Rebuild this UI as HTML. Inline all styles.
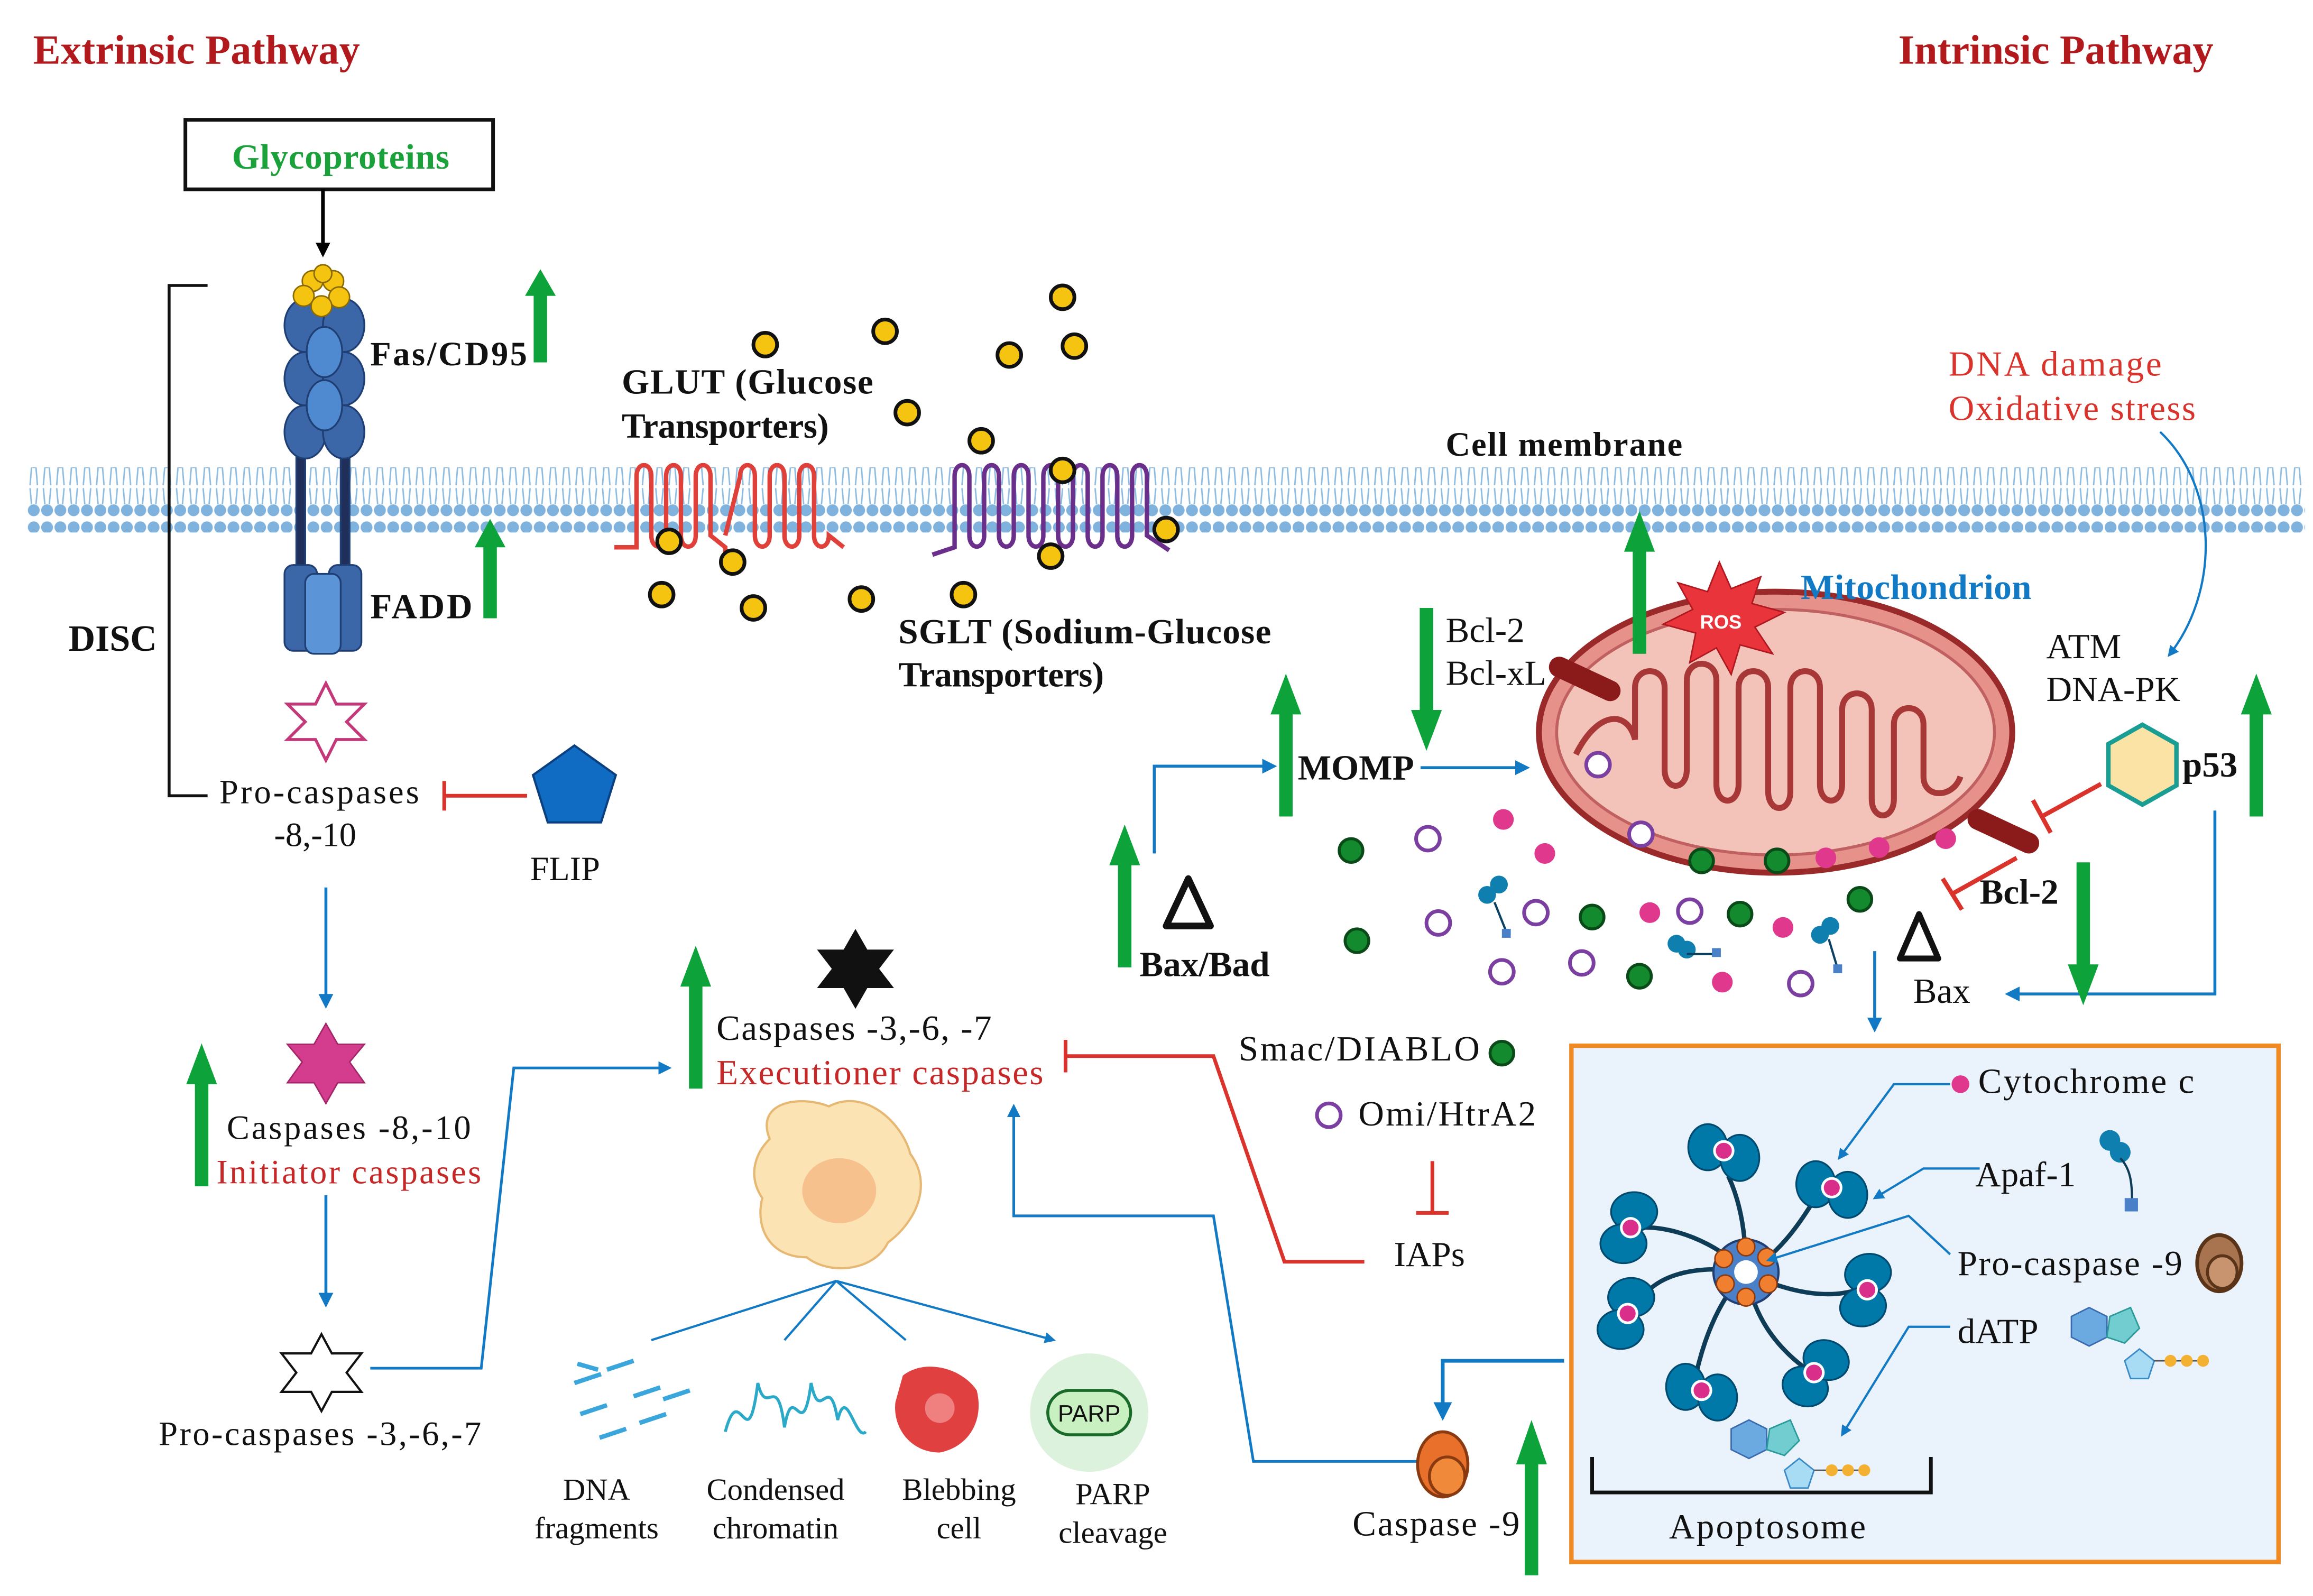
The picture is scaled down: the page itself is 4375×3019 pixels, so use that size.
<!DOCTYPE html>
<html><head><meta charset="utf-8"><style>
html,body{margin:0;padding:0;background:#fff;}
svg{display:block;}
text{font-family:"Liberation Serif",serif;}
</style></head><body>
<svg width="4375" height="3019" viewBox="0 0 1563 1079" xmlns="http://www.w3.org/2000/svg">
<defs>
<marker id="ab" viewBox="0 0 10 10" refX="8" refY="5" markerWidth="5" markerHeight="5" orient="auto"><path d="M0,0L10,5L0,10z" fill="#1279c4"/></marker>
<marker id="ak" viewBox="0 0 10 10" refX="8" refY="5" markerWidth="4" markerHeight="4" orient="auto"><path d="M0,0L10,5L0,10z" fill="#000"/></marker>
<pattern id="mem" x="0" y="0" width="9" height="44" patternUnits="userSpaceOnUse">
<circle cx="4.5" cy="4.5" r="4" fill="#7fb2dd"/>
<path d="M3,8 L2,20 M6,8 L7,20" stroke="#8cbce2" stroke-width="1"/>
<circle cx="4.5" cy="37" r="4" fill="#7fb2dd"/>
<path d="M3,33 L2,22 M6,33 L7,22" stroke="#8cbce2" stroke-width="1"/>
</pattern>
<g id="apaf">
<ellipse cx="-9" cy="-2" rx="11" ry="13" fill="#0078a8" stroke="#004a70" stroke-width="1"/>
<ellipse cx="9" cy="4" rx="11" ry="13" fill="#0078a8" stroke="#004a70" stroke-width="1"/>
<circle cx="0" cy="0" r="6" fill="#fff"/>
<circle cx="0" cy="0" r="4.5" fill="#d92f8b"/>
</g>
<g id="sarr"><path d="M-8,0 L0,-12 L8,0 L3.5,0 L3.5,30 L-3.5,30 L-3.5,0z" fill="#0da33a"/></g>
</defs>

<text x="22" y="43" font-size="28" fill="#b1191d" font-weight="bold" textLength="221">Extrinsic Pathway</text>
<text x="1283" y="43" font-size="28" fill="#b1191d" font-weight="bold" textLength="213">Intrinsic Pathway</text>

<rect x="18" y="316" width="1540" height="44" fill="url(#mem)"/>

<rect x="125" y="81" width="208" height="47" fill="#fff" stroke="#111" stroke-width="2.5"/>
<text x="230" y="114" font-size="24" fill="#1aa13a" text-anchor="middle" font-weight="bold" textLength="147">Glycoproteins</text>
<line x1="218" y1="128" x2="218" y2="172" stroke="#000" stroke-width="2.5" marker-end="url(#ak)"/>

<g stroke="#1f3f74" stroke-width="1.2">
<rect x="200" y="300" width="6" height="90" fill="#1f2f5a"/>
<rect x="230" y="300" width="6" height="90" fill="#1f2f5a"/>
<ellipse cx="206" cy="220" rx="14" ry="18" fill="#3b67a8"/><ellipse cx="232" cy="220" rx="14" ry="18" fill="#3b67a8"/>
<ellipse cx="206" cy="256" rx="14" ry="18" fill="#3b67a8"/><ellipse cx="232" cy="256" rx="14" ry="18" fill="#3b67a8"/>
<ellipse cx="206" cy="292" rx="14" ry="18" fill="#3b67a8"/><ellipse cx="232" cy="292" rx="14" ry="18" fill="#3b67a8"/>
<ellipse cx="219" cy="238" rx="12" ry="17" fill="#4f8ad0"/><ellipse cx="219" cy="274" rx="12" ry="17" fill="#4f8ad0"/>
<rect x="192" y="382" width="22" height="58" rx="6" fill="#3b67a8"/>
<rect x="222" y="382" width="22" height="58" rx="6" fill="#3b67a8"/>
<rect x="206" y="388" width="24" height="54" rx="6" fill="#5b95d8"/>
</g>
<g fill="#f4c411" stroke="#8a6a00" stroke-width="1">
<circle cx="211" cy="190" r="7"/><circle cx="225" cy="190" r="7"/><circle cx="205" cy="200" r="7"/><circle cx="229" cy="201" r="7"/><circle cx="217" cy="207" r="7"/><circle cx="218" cy="185" r="6"/>
</g>
<text x="250" y="247" font-size="23" fill="#111" font-weight="bold" textLength="106">Fas/CD95</text>
<use href="#sarr" transform="translate(365,200) scale(1.3,1.5)"/>
<text x="250" y="418" font-size="24" fill="#111" font-weight="bold" textLength="69">FADD</text>
<use href="#sarr" transform="translate(331,370) scale(1.3,1.6)"/>

<path d="M140,193 H114 V538 H140" fill="none" stroke="#111" stroke-width="2"/>
<text x="46" y="440" font-size="25" fill="#111" font-weight="bold">DISC</text>

<path d="M220,462 L227,476 L246,476 L234,488 L246,500 L227,500 L220,514 L213,500 L194,500 L206,488 L194,476 L213,476z" fill="#fff" stroke="#c4387a" stroke-width="2"/>
<text x="148" y="543" font-size="23" fill="#111" textLength="135">Pro-caspases</text>
<text x="185" y="572" font-size="23" fill="#111">-8,-10</text>
<line x1="300" y1="538" x2="356" y2="538" stroke="#d9332c" stroke-width="2.5"/>
<line x1="300" y1="528" x2="300" y2="548" stroke="#d9332c" stroke-width="2.5"/>
<path d="M388,504 L416,524 L406,556 L370,556 L360,524z" fill="#0f6cc2" stroke="#0a3f80" stroke-width="1.5"/>
<text x="358" y="595" font-size="23" fill="#111">FLIP</text>

<line x1="220" y1="600" x2="220" y2="680" stroke="#1279c4" stroke-width="2" marker-end="url(#ab)"/>
<path d="M220,692 L228,706 L246,706 L236,718 L246,732 L228,732 L220,746 L212,732 L194,732 L204,718 L194,706 L212,706z" fill="#d43d8d" stroke="#a32668"/>
<use href="#sarr" transform="translate(136,733) scale(1.3,2.3)"/>
<text x="153" y="770" font-size="23" fill="#111" textLength="165">Caspases -8,-10</text>
<text x="146" y="800" font-size="23" fill="#c62828" textLength="179">Initiator caspases</text>
<line x1="220" y1="808" x2="220" y2="882" stroke="#1279c4" stroke-width="2" marker-end="url(#ab)"/>
<path d="M217,902 L224,915 L244,915 L234,928 L244,941 L224,941 L217,954 L210,941 L190,941 L200,928 L190,915 L210,915z" fill="#fff" stroke="#111" stroke-width="1.5"/>
<text x="107" y="977" font-size="23" fill="#111" textLength="218">Pro-caspases -3,-6,-7</text>
<path d="M250,925 H325 L347,722 H452" fill="none" stroke="#1279c4" stroke-width="1.8" marker-end="url(#ab)"/>

<use href="#sarr" transform="translate(470,667) scale(1.3,2.3)"/>
<path d="M578,628 L586,642 L604,642 L594,655 L604,668 L586,668 L578,682 L570,668 L552,668 L562,655 L552,642 L570,642z" fill="#111"/>
<text x="484" y="703" font-size="24" fill="#111" textLength="186">Caspases -3,-6, -7</text>
<text x="484" y="733" font-size="24" fill="#c62828" textLength="221">Executioner caspases</text>
<path d="M720,714 H820 L868,853 H922" fill="none" stroke="#d9332c" stroke-width="2.5"/>
<line x1="720" y1="703" x2="720" y2="725" stroke="#d9332c" stroke-width="2.5"/>

<path d="M520,770 C510,745 540,740 560,748 C585,735 610,760 615,780 C630,800 620,825 600,840 C590,860 560,862 545,850 C520,850 510,830 515,810 C505,795 510,780 520,770z" fill="#fbe3b4" stroke="#e7b873" stroke-width="1.5"/>
<ellipse cx="567" cy="805" rx="25" ry="22" fill="#f7c18e"/>
<path d="M565,866 L440,906 M565,866 L530,906 M565,866 L612,906 M565,866 L712,906" stroke="#1279c4" stroke-width="1.5" marker-end="url(#ab)" fill="none"/>
<g stroke="#3aa6dc" stroke-width="3" fill="none">
<path d="M388,935 l18,-6 M410,926 l18,-6 M428,944 l18,-6 M392,956 l18,-6 M448,946 l18,-6 M405,972 l18,-6 M432,962 l18,-6 M390,922 l14,4"/>
</g>
<path d="M490,968 C500,930 505,990 512,935 C518,960 525,925 530,965 C536,930 542,980 548,935 C554,965 560,925 566,960 C572,935 578,975 585,968" fill="none" stroke="#2aa9c9" stroke-width="2"/>
<path d="M610,930 C625,918 650,925 660,940 C665,960 655,978 635,982 C615,982 603,965 605,948z" fill="#e04040"/>
<circle cx="635" cy="952" r="10" fill="#f08080"/>
<circle cx="736" cy="955" r="40" fill="#d5efd5" opacity="0.8"/>
<rect x="708" y="940" width="56" height="30" rx="15" fill="#c8f0c0" stroke="#1a6b2a" stroke-width="2"/>
<text x="736" y="961" font-size="16" text-anchor="middle" fill="#111" style="font-family:'Liberation Sans',sans-serif">PARP</text>
<g font-size="21" fill="#111" text-anchor="middle">
<text x="403" y="1014">DNA</text><text x="403" y="1040">fragments</text>
<text x="524" y="1014">Condensed</text><text x="524" y="1040">chromatin</text>
<text x="648" y="1014">Blebbing</text><text x="648" y="1040">cell</text>
<text x="752" y="1017">PARP</text><text x="752" y="1043">cleavage</text>
</g>
<path d="M958,988 H847 L820,822 H685 V748" fill="none" stroke="#1279c4" stroke-width="1.8" marker-end="url(#ab)"/>

<text x="420" y="266" font-size="24" fill="#111" font-weight="bold" textLength="170">GLUT (Glucose</text>
<text x="420" y="296" font-size="24" fill="#111" font-weight="bold" textLength="140">Transporters)</text>
<path d="M415,370 L430,370 V322 C430,312 440,312 440,322 V362 C440,372 450,372 450,362 V322 C450,312 460,312 460,322 V362 C460,372 470,372 470,362 V322 C470,312 480,312 480,322 V362 L490,370 L490,385 M490,362 L500,322 C500,312 510,312 510,322 V362 C510,372 520,372 520,362 V322 C520,312 530,312 530,322 V362 C530,372 540,372 540,362 V322 C540,312 550,312 550,322 V362 C550,372 560,372 560,362 L570,370" fill="none" stroke="#e0403a" stroke-width="3"/>
<path d="M630,375 L645,370 V322 C645,312 655,312 655,322 V362 C655,372 665,372 665,362 V322 C665,312 675,312 675,322 V362 C675,372 685,372 685,362 V322 C685,312 695,312 695,322 V362 C695,372 705,372 705,362 V322 C705,312 715,312 715,322 V362 C715,372 725,372 725,362 V322 C725,312 735,312 735,322 V362 C735,372 745,372 745,362 V322 C745,312 755,312 755,322 V362 C755,372 765,372 765,362 V322 C765,312 775,312 775,322 V362 L790,372" fill="none" stroke="#6a2f8a" stroke-width="3"/>
<text x="607" y="435" font-size="24" fill="#111" font-weight="bold" textLength="252">SGLT (Sodium-Glucose</text>
<text x="607" y="464" font-size="24" fill="#111" font-weight="bold" textLength="139">Transporters)</text>
<g fill="#f4c411" stroke="#111" stroke-width="2.5">
<circle cx="517" cy="233" r="8"/><circle cx="598" cy="224" r="8"/><circle cx="682" cy="240" r="8"/><circle cx="718" cy="201" r="8"/><circle cx="726" cy="234" r="8"/><circle cx="613" cy="279" r="8"/><circle cx="663" cy="298" r="8"/><circle cx="718" cy="318" r="8"/><circle cx="788" cy="358" r="8"/><circle cx="710" cy="376" r="8"/><circle cx="452" cy="366" r="8"/><circle cx="495" cy="380" r="8"/><circle cx="447" cy="402" r="8"/><circle cx="509" cy="411" r="8"/><circle cx="582" cy="405" r="8"/><circle cx="651" cy="402" r="8"/>
</g>
<text x="977" y="308" font-size="23" fill="#111" font-weight="bold" textLength="160">Cell membrane</text>

<text x="1317" y="254" font-size="24" fill="#d9332c" textLength="144">DNA damage</text>
<text x="1317" y="284" font-size="24" fill="#d9332c" textLength="167">Oxidative stress</text>
<path d="M1460,292 C1500,330 1500,400 1466,443" fill="none" stroke="#1279c4" stroke-width="1.5" marker-end="url(#ab)"/>
<text x="1383" y="445" font-size="24" fill="#111">ATM</text>
<text x="1383" y="474" font-size="24" fill="#111">DNA-PK</text>
<path d="M1448,490 L1471,503 V531 L1448,544 L1425,531 V503z" fill="#fbe3a6" stroke="#1a9e93" stroke-width="3"/>
<text x="1475" y="525" font-size="24" fill="#111" font-weight="bold">p53</text>
<use href="#sarr" transform="translate(1525,483) scale(1.3,2.3)"/>
<line x1="1420" y1="530" x2="1380" y2="552" stroke="#d9332c" stroke-width="3"/>
<line x1="1374" y1="541" x2="1386" y2="563" stroke="#d9332c" stroke-width="3"/>
<path d="M1497,548 V672 H1357" fill="none" stroke="#1279c4" stroke-width="2" marker-end="url(#ab)"/>
<path d="M1297,618 L1310,648 H1284z" fill="none" stroke="#111" stroke-width="4" stroke-linejoin="round"/>
<text x="1293" y="678" font-size="24" fill="#111">Bax</text>
<use href="#sarr" transform="translate(1408,652) scale(1.3,-2.3)"/>
<text x="1338" y="611" font-size="24" fill="#111" font-weight="bold">Bcl-2</text>
<line x1="1363" y1="580" x2="1320" y2="604" stroke="#d9332c" stroke-width="3"/>
<line x1="1313" y1="594" x2="1326" y2="615" stroke="#d9332c" stroke-width="3"/>

<ellipse cx="1200" cy="495" rx="160" ry="95" fill="#e6928a" stroke="#9a2a2a" stroke-width="4"/>
<ellipse cx="1200" cy="495" rx="148" ry="83" fill="#f3c3b9" stroke="#c06060" stroke-width="2"/>
<path d="M1065,510 C1080,480 1100,480 1105,500 V465 C1105,450 1125,450 1125,465 V520 C1125,535 1140,535 1140,520 V460 C1140,445 1160,445 1160,460 V530 C1160,545 1175,545 1175,530 V465 C1175,450 1195,450 1195,465 V535 C1195,550 1210,550 1210,535 V465 C1210,450 1230,450 1230,465 V530 C1230,545 1245,545 1245,530 V480 C1245,465 1265,465 1265,480 V540 C1265,555 1280,555 1280,540 V490 C1280,475 1300,475 1300,490 V525 C1300,540 1320,540 1325,525" fill="none" stroke="#a83838" stroke-width="4"/>
<rect x="1045" y="452" width="52" height="14" rx="7" fill="#8b1a1a" transform="rotate(25 1071 459)"/>
<rect x="1328" y="555" width="52" height="14" rx="7" fill="#8b1a1a" transform="rotate(25 1354 562)"/>
<path d="M1162,380 L1170,398 L1190,390 L1184,408 L1206,414 L1186,424 L1198,442 L1176,436 L1170,456 L1160,438 L1142,448 L1146,428 L1124,422 L1144,412 L1134,394 L1154,400z" fill="#e8343a" stroke="#b01820"/>
<text x="1163" y="425" font-size="13" fill="#fff" text-anchor="middle" style="font-family:'Liberation Sans',sans-serif" font-weight="bold">ROS</text>
<text x="1217" y="405" font-size="24" fill="#1279c4" font-weight="bold" textLength="156">Mitochondrion</text>
<use href="#sarr" transform="translate(1108,373) scale(1.3,2.3)"/>
<text x="977" y="434" font-size="24" fill="#111">Bcl-2</text>
<text x="977" y="463" font-size="24" fill="#111">Bcl-xL</text>
<use href="#sarr" transform="translate(964,480) scale(1.3,-2.3)"/>
<use href="#sarr" transform="translate(869,483) scale(1.3,2.3)"/>
<text x="877" y="527" font-size="24" fill="#111" font-weight="bold">MOMP</text>
<line x1="960" y1="519" x2="1032" y2="519" stroke="#1279c4" stroke-width="2" marker-end="url(#ab)"/>
<path d="M780,577 V518 H861" fill="none" stroke="#1279c4" stroke-width="2" marker-end="url(#ab)"/>
<path d="M803,594 L818,626 H788z" fill="none" stroke="#111" stroke-width="4.5" stroke-linejoin="round"/>
<use href="#sarr" transform="translate(760,585) scale(1.3,2.3)"/>
<text x="770" y="660" font-size="24" fill="#111" font-weight="bold">Bax/Bad</text>

<g fill="#138a2e" stroke="#0a4a18" stroke-width="2">
<circle cx="913" cy="575" r="8"/><circle cx="917" cy="636" r="8"/><circle cx="1076" cy="620" r="8"/><circle cx="1108" cy="660" r="8"/><circle cx="1150" cy="582" r="8"/><circle cx="1176" cy="618" r="8"/><circle cx="1201" cy="582" r="8"/><circle cx="1257" cy="608" r="8"/><circle cx="1015" cy="712" r="8"/>
</g>
<g fill="#fff" stroke="#7a3fa0" stroke-width="2.5">
<circle cx="965" cy="567" r="8"/><circle cx="1080" cy="517" r="8"/><circle cx="1109" cy="564" r="8"/><circle cx="972" cy="624" r="8"/><circle cx="1038" cy="617" r="8"/><circle cx="1015" cy="657" r="8"/><circle cx="1069" cy="651" r="8"/><circle cx="1142" cy="616" r="8"/><circle cx="1217" cy="665" r="8"/><circle cx="898" cy="754" r="8"/>
</g>
<g fill="#e0388c">
<circle cx="1016" cy="554" r="7"/><circle cx="1044" cy="577" r="7"/><circle cx="1115" cy="617" r="7"/><circle cx="1164" cy="664" r="7"/><circle cx="1234" cy="580" r="7"/><circle cx="1270" cy="573" r="7"/><circle cx="1315" cy="567" r="7"/><circle cx="1205" cy="627" r="7"/>
</g>
<g fill="#0f7fb0">
<circle cx="1005" cy="605" r="6"/><circle cx="1013" cy="598" r="6"/><path d="M1010,610 L1018,630" stroke="#0a4060" stroke-width="1.5"/><rect x="1015" y="628" width="6" height="6" fill="#4a80c8"/>
<circle cx="1133" cy="638" r="6"/><circle cx="1140" cy="642" r="6"/><path d="M1140,645 L1158,645" stroke="#0a4060" stroke-width="1.5"/><rect x="1157" y="641" width="6" height="6" fill="#4a80c8"/>
<circle cx="1230" cy="632" r="6"/><circle cx="1237" cy="626" r="6"/><path d="M1236,635 L1242,655" stroke="#0a4060" stroke-width="1.5"/><rect x="1239" y="652" width="6" height="6" fill="#4a80c8"/>
</g>
<line x1="1267" y1="643" x2="1267" y2="696" stroke="#1279c4" stroke-width="2" marker-end="url(#ab)"/>

<text x="837" y="717" font-size="24" fill="#111" textLength="163">Smac/DIABLO</text>
<text x="918" y="761" font-size="24" fill="#111" textLength="120">Omi/HtrA2</text>
<line x1="968" y1="785" x2="968" y2="820" stroke="#d9332c" stroke-width="2.5"/>
<line x1="957" y1="820" x2="979" y2="820" stroke="#d9332c" stroke-width="2.5"/>
<text x="942" y="856" font-size="24" fill="#111">IAPs</text>

<rect x="1062" y="707" width="478" height="349" fill="#eaf2fb" stroke="#f28a24" stroke-width="3"/>
<g stroke="#0e3b55" stroke-width="3" fill="none">
<path d="M1180,860 C1180,830 1175,810 1168,795"/>
<path d="M1180,860 C1200,850 1215,830 1228,808"/>
<path d="M1180,860 C1160,840 1130,828 1106,830"/>
<path d="M1180,860 C1200,870 1230,880 1255,872"/>
<path d="M1180,860 C1150,855 1120,860 1108,880"/>
<path d="M1180,860 C1185,890 1200,910 1220,925"/>
<path d="M1180,860 C1160,880 1150,910 1145,935"/>
</g>
<use href="#apaf" transform="translate(1165,778) scale(1.2)"/>
<use href="#apaf" transform="translate(1238,803) scale(1.2)"/>
<use href="#apaf" transform="translate(1102,830) rotate(90) scale(1.2)"/>
<use href="#apaf" transform="translate(1262,872) rotate(80) scale(1.2)"/>
<use href="#apaf" transform="translate(1100,888) rotate(90) scale(1.2)"/>
<use href="#apaf" transform="translate(1226,928) rotate(-70) scale(1.2)"/>
<use href="#apaf" transform="translate(1150,940) scale(1.2)"/>
<circle cx="1180" cy="860" r="22" fill="#4a80c8" stroke="#1f3f74" stroke-width="1.5"/>
<g fill="#f08030" stroke="#8a3a10" stroke-width="1">
<circle cx="1180" cy="843" r="6"/><circle cx="1194" cy="850" r="6"/><circle cx="1195" cy="868" r="6"/><circle cx="1180" cy="877" r="6"/><circle cx="1166" cy="868" r="6"/><circle cx="1165" cy="851" r="6"/>
</g>
<circle cx="1180" cy="860" r="8" fill="#fff"/>
<circle cx="1325" cy="733" r="6" fill="#e0388c"/>
<text x="1337" y="739" font-size="24" fill="#111" textLength="146">Cytochrome c</text>
<path d="M1318,733 H1280 L1243,783" fill="none" stroke="#1279c4" stroke-width="1.5" marker-end="url(#ab)"/>
<text x="1335" y="802" font-size="24" fill="#111">Apaf-1</text>
<path d="M1338,790 H1300 L1267,810" fill="none" stroke="#1279c4" stroke-width="1.5" marker-end="url(#ab)"/>
<circle cx="1433" cy="779" r="7" fill="#0f7fb0"/><circle cx="1426" cy="771" r="7" fill="#0f7fb0"/>
<path d="M1433,783 C1440,790 1441,800 1441,812" stroke="#0e3b55" stroke-width="1.5" fill="none"/>
<rect x="1436" y="810" width="9" height="9" fill="#4a80c8"/>
<text x="1323" y="862" font-size="24" fill="#111" textLength="152">Pro-caspase -9</text>
<path d="M1318,848 L1290,822 L1195,852" fill="none" stroke="#1279c4" stroke-width="1.5" marker-end="url(#ab)"/>
<ellipse cx="1500" cy="854" rx="15" ry="19" fill="#a8744f" stroke="#5a3418" stroke-width="2.5"/>
<ellipse cx="1502" cy="860" rx="10" ry="11" fill="#c89470" stroke="#5a3418" stroke-width="2"/>
<text x="1323" y="908" font-size="24" fill="#111">dATP</text>
<path d="M1318,897 H1290 L1245,970" fill="none" stroke="#1279c4" stroke-width="1.5" marker-end="url(#ab)"/>
<path d="M1412,884 L1424,890 V904 L1412,910 L1400,904 V890z" fill="#6aaae0" stroke="#3a6ab0"/>
<path d="M1426,890 L1440,884 L1446,898 L1436,908 L1424,904z" fill="#72cdd0" stroke="#2a9a9a"/>
<path d="M1446,912 L1456,920 L1452,932 L1440,932 L1436,920z" fill="#a8dcf4" stroke="#3a8ac8"/>
<line x1="1456" y1="920" x2="1490" y2="920" stroke="#555"/>
<circle cx="1467" cy="920" r="4" fill="#f4b030"/><circle cx="1478" cy="920" r="4" fill="#f4b030"/><circle cx="1489" cy="920" r="4" fill="#f4b030"/>
<path d="M1182,960 L1194,966 V980 L1182,986 L1170,980 V966z" fill="#6aaae0" stroke="#3a6ab0"/>
<path d="M1196,966 L1210,960 L1216,974 L1206,984 L1194,980z" fill="#72cdd0" stroke="#2a9a9a"/>
<path d="M1216,986 L1226,994 L1222,1006 L1210,1006 L1206,994z" fill="#a8dcf4" stroke="#3a8ac8"/>
<line x1="1226" y1="994" x2="1262" y2="994" stroke="#555"/>
<circle cx="1238" cy="994" r="4" fill="#f4b030"/><circle cx="1249" cy="994" r="4" fill="#f4b030"/><circle cx="1260" cy="994" r="4" fill="#f4b030"/>
<path d="M1076,985 V1009 H1305 V985" fill="none" stroke="#111" stroke-width="2.5"/>
<text x="1128" y="1040" font-size="24" fill="#111" textLength="133">Apoptosome</text>

<path d="M1057,920 H975 V958" fill="none" stroke="#1279c4" stroke-width="2.5" marker-end="url(#ab)"/>
<ellipse cx="975" cy="990" rx="17" ry="22" fill="#e8702a" stroke="#8a3a10" stroke-width="2"/>
<ellipse cx="978" cy="998" rx="12" ry="13" fill="#f08a3a" stroke="#8a3a10" stroke-width="2"/>
<text x="914" y="1038" font-size="24" fill="#111" textLength="113">Caspase -9</text>
<use href="#sarr" transform="translate(1035,990) scale(1.3,2.5)"/>
</svg>
</body></html>
